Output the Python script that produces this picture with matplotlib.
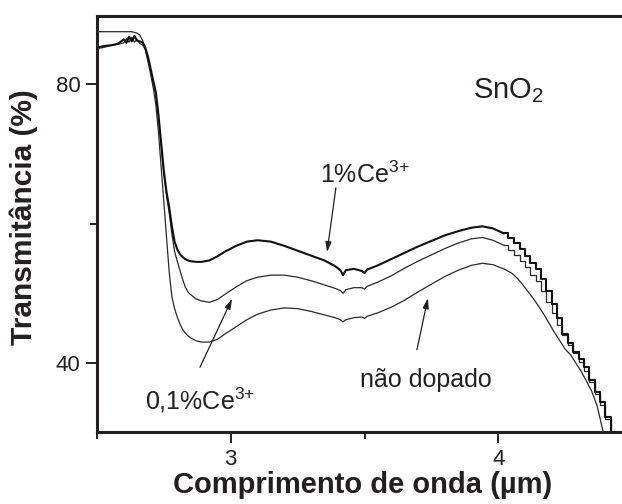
import matplotlib
matplotlib.use("Agg")
import matplotlib.pyplot as plt
from matplotlib.ticker import MultipleLocator

plt.rcParams['font.family'] = ['Liberation Sans', 'DejaVu Sans']
plt.rcParams['mathtext.fontset'] = 'custom'
plt.rcParams['mathtext.rm'] = 'Liberation Sans'
plt.rcParams['mathtext.it'] = 'Liberation Sans:italic'
plt.rcParams['mathtext.bf'] = 'Liberation Sans:bold'

# ---- data ----
wavelength = [2.50, 2.52, 2.54, 2.56, 2.58, 2.60, 2.61, 2.62, 2.63, 2.64, 2.65, 2.66,
              2.67, 2.68, 2.69, 2.70, 2.71, 2.72, 2.73, 2.74, 2.75, 2.76, 2.77, 2.78,
              2.79, 2.80, 2.81, 2.82, 2.83, 2.84, 2.85, 2.87, 2.89,
              2.92, 2.95, 2.98, 3.02, 3.06, 3.10, 3.15, 3.20, 3.25, 3.30, 3.35, 3.39,
              3.41, 3.42, 3.43, 3.46, 3.49, 3.50, 3.51, 3.55, 3.60, 3.65, 3.70, 3.75,
              3.80, 3.85, 3.90, 3.94, 3.98, 4.02,
              4.05, 4.07, 4.09, 4.11, 4.13, 4.15, 4.17, 4.19, 4.21, 4.23, 4.25, 4.27,
              4.29, 4.31, 4.33, 4.35, 4.37, 4.39, 4.41, 4.43, 4.45]

nao_dopado = [87.5, 87.5, 87.5, 87.5, 87.5, 87.5, 87.5, 87.5, 87.5, 87.4, 87.3, 87.0,
              86.3, 85.0, 83.3, 81.5, 79.5, 77.0, 73.0, 68.0, 63.0, 58.0, 53.0, 49.5,
              47.8, 46.6, 45.6, 44.8, 44.3, 43.9, 43.6, 43.2, 43.0,
              43.0, 43.4, 44.2, 45.2, 46.2, 47.0, 47.6, 47.9, 47.8, 47.4, 46.9, 46.5,
              46.2, 45.9, 46.2, 46.5, 46.6, 46.4, 46.7, 47.2, 48.0, 49.0, 50.2, 51.3,
              52.4, 53.3, 54.0, 54.3, 54.1, 53.5,
              52.9, 52.2, 51.3, 50.3, 49.3, 48.2, 47.0, 45.7, 44.4, 43.2, 42.0, 41.2,
              40.0, 38.8, 37.4, 35.9, 33.8, 30.5, 27.0, 24.0, 21.0]

ce_01 = [85.1, 85.2, 85.4, 85.6, 85.7, 85.9, 86.5, 86.0, 86.7, 86.0, 86.4, 85.8,
         85.6, 85.0, 83.8, 82.0, 80.2, 78.5, 75.0, 71.0, 67.0, 64.0, 61.5, 58.5,
         56.0, 54.6, 53.3, 52.0, 50.9, 50.2, 49.8, 49.2, 48.9,
         48.7, 49.1, 49.9, 50.9, 51.8, 52.3, 52.6, 52.6, 52.3, 51.8, 51.2, 50.7,
         50.4, 50.0, 50.5, 50.8, 50.8, 50.6, 51.0, 51.6, 52.5, 53.6, 54.6, 55.5,
         56.4, 57.2, 57.8, 58.0, 57.6, 56.9,
         56.2, 55.5, 54.6, 53.7, 52.6, 51.8, 50.3, 48.8, 47.2, 45.5, 44.0, 42.6,
         41.4, 40.2, 38.9, 37.3, 35.6, 34.0, 32.0, 29.5, 27.0]

ce_1 = [85.2, 85.4, 85.5, 85.6, 85.8, 86.4, 85.9, 86.8, 86.1, 86.9, 86.2, 86.1,
        86.0, 85.3, 84.0, 82.3, 80.5, 78.8, 75.5, 71.5, 67.5, 64.5, 62.3, 59.6,
        57.4, 56.3, 55.6, 55.2, 54.9, 54.7, 54.6, 54.5, 54.5,
        54.7, 55.3, 56.0, 56.8, 57.4, 57.6, 57.4, 56.8, 56.1, 55.4, 54.7, 53.9,
        53.3, 52.6, 53.3, 53.5, 53.2, 52.9, 53.4, 54.0, 54.9, 55.8, 56.7, 57.5,
        58.3, 58.9, 59.4, 59.6, 59.3, 58.6,
        57.9, 57.2, 56.3, 55.4, 54.3, 53.5, 52.0, 50.3, 48.4, 46.5, 44.2, 42.8,
        41.6, 40.6, 39.4, 37.6, 35.9, 34.4, 32.3, 29.5, 27.0]

x_ticks = [3, 4]
y_ticks = [40, 80]

# ---- figure ----
fig = plt.figure(figsize=(6.22, 5.04), dpi=100)
ax = fig.add_axes([97 / 622, 72 / 504, 525 / 622, 416 / 504])

ink = '#231f20'
# index where the coarse (stair-stepped) tail of the doped spectra starts
k = wavelength.index(4.02)

ax.plot(wavelength, nao_dopado, color='#2a2a2a', lw=0.9)
for series, lw, col in [(ce_01, 0.9, '#2a2a2a'), (ce_1, 1.5, '#111111')]:
    ax.plot(wavelength[:k + 1], series[:k + 1], color=col, lw=lw)
    ax.plot(wavelength[k:], series[k:], color=col, lw=lw, drawstyle='steps-mid')

ax.set_xlim(2.5, 4.4626)
ax.set_ylim(30.11, 89.75)

ax.set_xticks(x_ticks)
ax.set_yticks(y_ticks)
ax.xaxis.set_minor_locator(MultipleLocator(0.5))
ax.yaxis.set_minor_locator(MultipleLocator(20))
ax.tick_params(which='major', direction='out', length=8, width=1.4, color=ink,
               labelsize=16, labelcolor=ink)
ax.tick_params(axis='x', which='major', pad=4.5)
ax.tick_params(axis='y', which='major', pad=4)
ax.tick_params(which='minor', direction='out', length=5, width=1.4, color=ink)

for side in ['left', 'bottom', 'top']:
    ax.spines[side].set_linewidth(2.2)
    ax.spines[side].set_color(ink)
ax.spines['right'].set_visible(False)

ax.set_xlabel('Comprimento de onda (µm)', fontsize=21, fontweight='bold', color=ink)
ax.xaxis.set_label_coords(0.5057, -0.093)
ax.set_ylabel('Transmitância (%)', fontsize=21.5, fontweight='bold', color=ink)
ax.yaxis.set_label_coords(-0.112, 0.5156)

# ---- annotations ----
tfs = 18
ax.text(3.906, 78.0, r'SnO$_\mathregular{2}$', fontsize=21, color=ink,
        ha='left', va='baseline')
ax.text(3.334, 65.8, r'1%Ce$^\mathregular{3{+}}$', fontsize=tfs, color=ink,
        ha='left', va='baseline')
ax.text(2.679, 33.4, r'0,1%Ce$^\mathregular{3{+}}$', fontsize=tfs, color=ink,
        ha='left', va='baseline')
ax.text(3.483, 36.55, 'não dopado', fontsize=tfs, color=ink,
        ha='left', va='baseline')

arrow = dict(arrowstyle='-|>,head_length=0.6,head_width=0.18', color=ink, lw=0.9,
             shrinkA=0, shrinkB=0)
ax.annotate('', xy=(3.360, 55.9), xytext=(3.393, 65.1), arrowprops=arrow)
ax.annotate('', xy=(3.005, 49.2), xytext=(2.885, 39.4), arrowprops=arrow)
ax.annotate('', xy=(3.737, 49.3), xytext=(3.696, 41.9), arrowprops=arrow)

fig.savefig('out.png', dpi=100)
